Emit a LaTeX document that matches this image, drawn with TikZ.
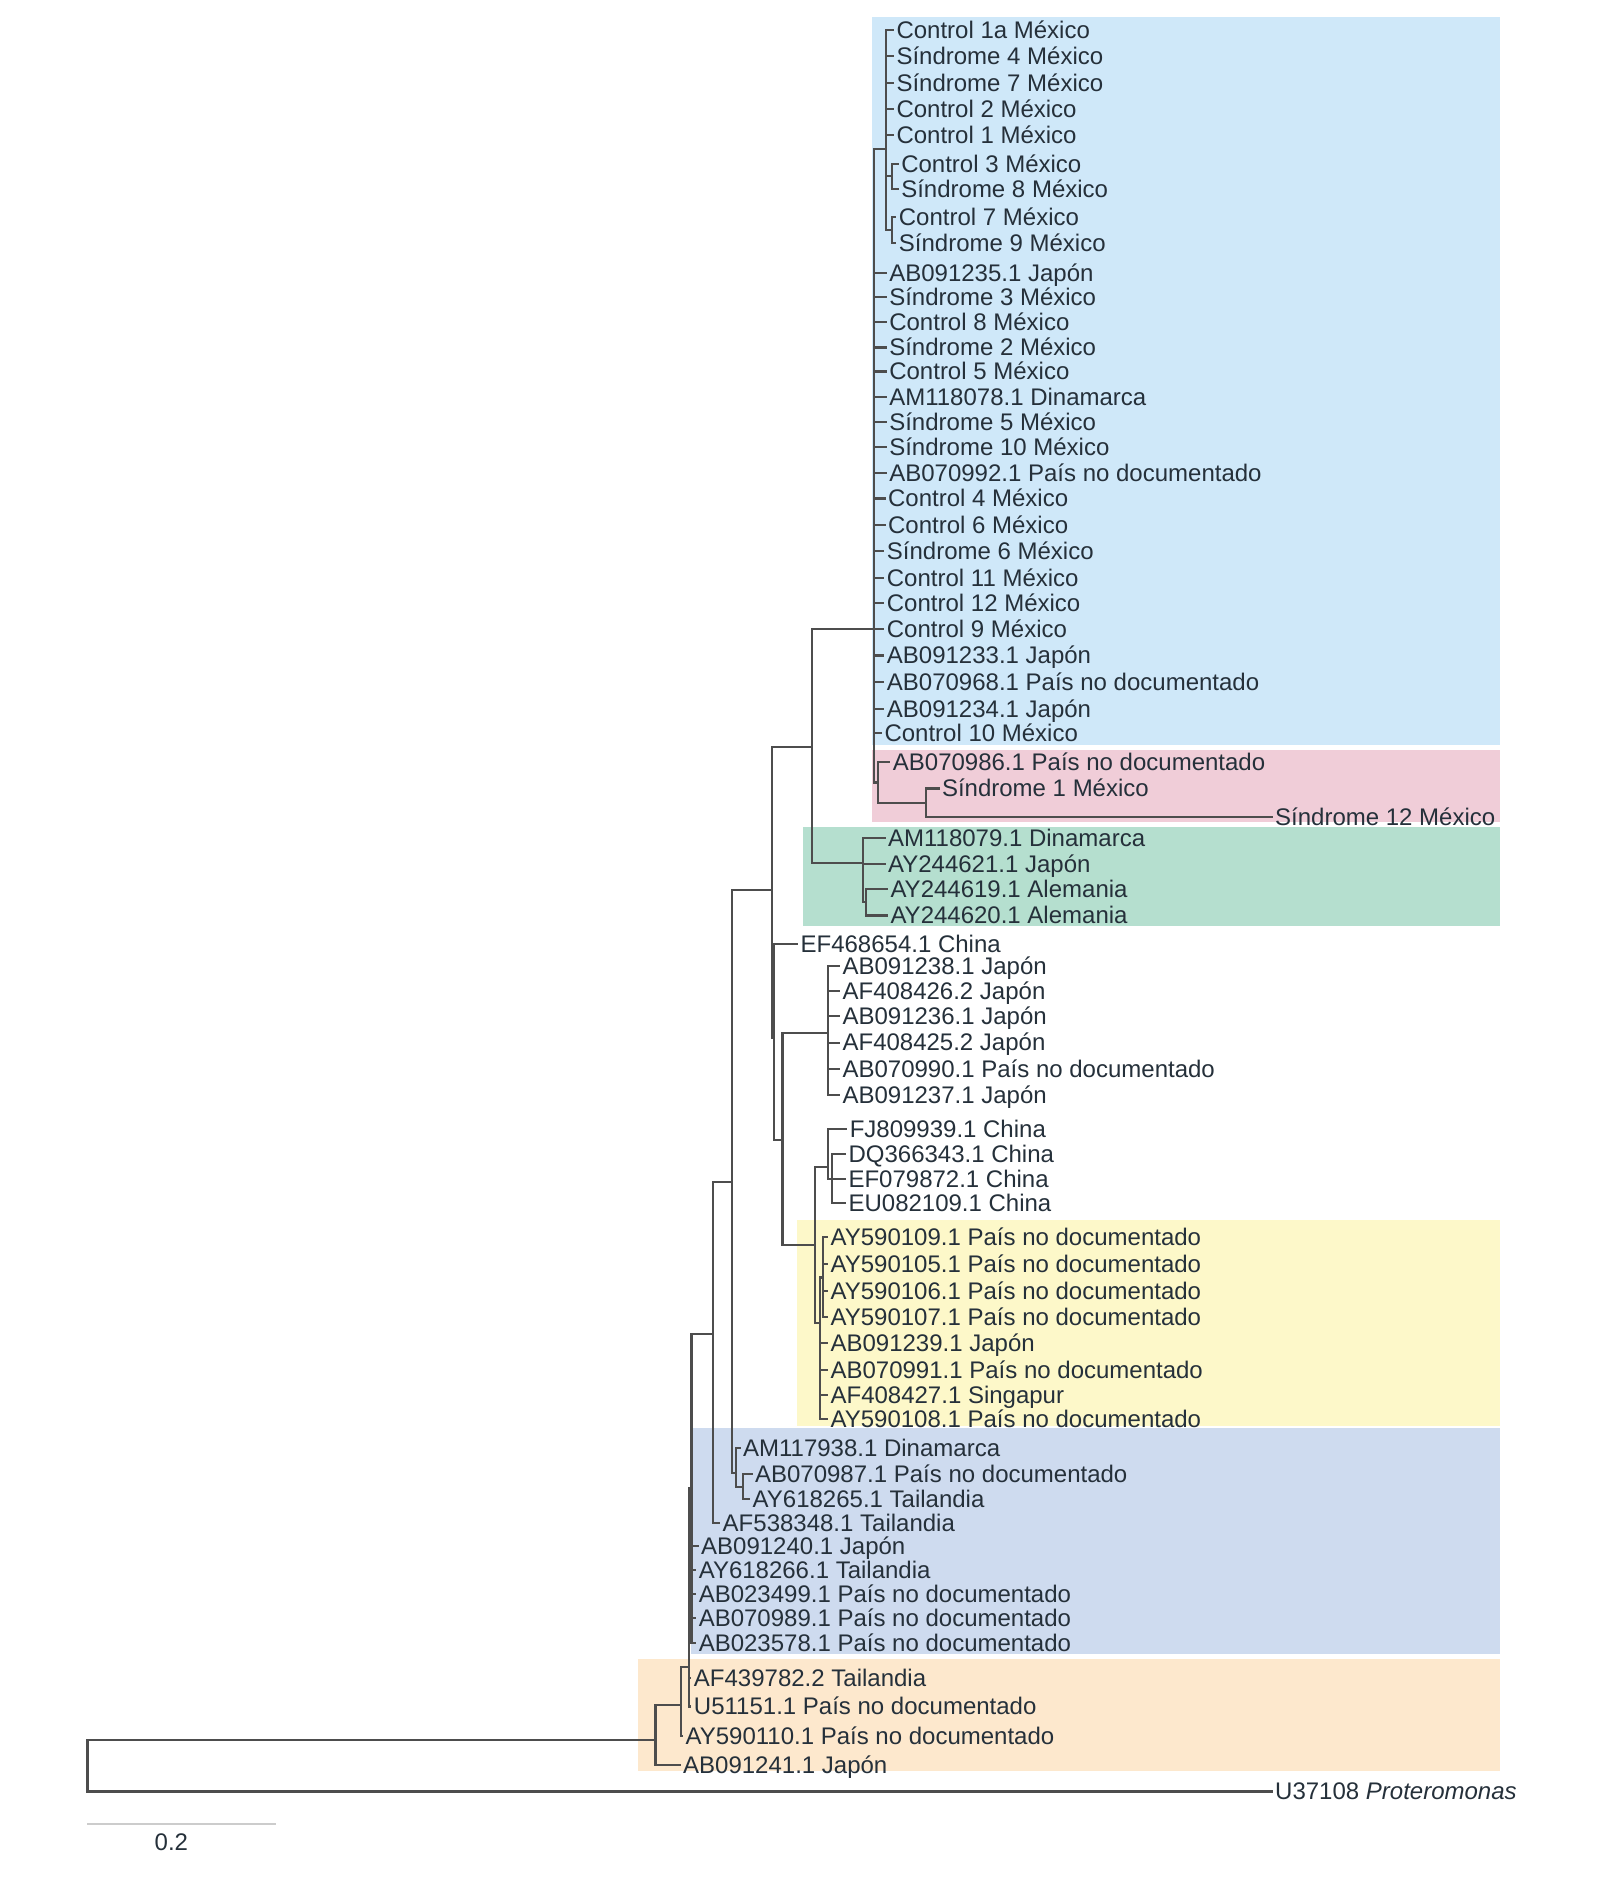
\documentclass[tikz,border=0pt]{standalone}
\usepackage{fontspec}
\setmainfont{Liberation Sans}
\usepackage{xcolor}
\definecolor{CladoAzul}{HTML}{CFE8F9}
\definecolor{CladoRosa}{HTML}{F0CDD8}
\definecolor{CladoVerde}{HTML}{B5DFCF}
\definecolor{CladoAmarillo}{HTML}{FDF8C9}
\definecolor{CladoGris}{HTML}{CEDBEF}
\definecolor{CladoNaranja}{HTML}{FDE8CD}
\definecolor{RamaGris}{HTML}{4D4D4D}
\definecolor{TextoOscuro}{HTML}{25303A}

\begin{document}
\begin{tikzpicture}[x=0.02cm, y=-0.02cm,
    rama/.style={draw=RamaGris, line width=1pt},
    hoja/.style={anchor=west, inner sep=1pt, text=TextoOscuro, font=\fontsize{11.4}{13}\selectfont, text height=9pt, text depth=1pt}]
            \useasboundingbox (0,0) rectangle (1349,1568);
            \fill[CladoAzul] (728,14) rectangle (1252,622);
            \fill[CladoRosa] (728,626) rectangle (1252,686);
            \fill[CladoVerde] (670,690) rectangle (1252,773);
            \fill[CladoAmarillo] (665,1018) rectangle (1252,1190);
            \fill[CladoGris] (577,1192) rectangle (1252,1380);
            \fill[CladoNaranja] (532,1384) rectangle (1252,1478);

            \coordinate (raiz) at (73,1473);
            \coordinate (nR) at (547,1452);
            \coordinate (nO) at (568,1423);
            \coordinate (nN) at (575,1391);
            \coordinate (nM) at (577,1242);
            \coordinate (nL) at (595,1113);
            \coordinate (nK) at (611,986);
            \coordinate (nS) at (614,1229);
            \coordinate (nS2) at (620,1241);
            \coordinate (nC) at (644,743);
            \coordinate (nX) at (646,866);
            \coordinate (nE) at (653,951);
            \coordinate (nJ) at (691,862);
            \coordinate (nF) at (680,1039);
            \coordinate (nCh) at (691,974);
            \coordinate (nCh2) at (694,984);
            \coordinate (nY) at (684,1104);
            \coordinate (nY2) at (687,1066);
            \coordinate (nA) at (677.5,623);
            \coordinate (nB) at (729,525);
            \coordinate (nB1) at (739,124);
            \coordinate (nB3) at (744,147);
            \coordinate (nB4) at (744,192);
            \coordinate (nP) at (733,653);
            \coordinate (nP2) at (773,670);
            \coordinate (nG) at (720,720);
            \coordinate (nG2) at (723,753);

            \foreach \n/\x/\y/\t in {t01/746/25/Control 1a México, t02/746/47/Síndrome 4 México,
                t03/746/69/Síndrome 7 México, t04/746/91/Control 2 México, t05/746/113/Control 1 México,
                t06/750/137/Control 3 México, t07/750/158/Síndrome 8 México, t08/748/181/Control 7 México,
                t09/748/203/Síndrome 9 México, t10/740/228/AB091235.1 Japón, t11/740/248/Síndrome 3 México,
                t12/740/269/Control 8 México, t13/740/290/Síndrome 2 México, t14/740/310/Control 5 México,
                t15/740/331/AM118078.1 Dinamarca, t16/740/352/Síndrome 5 México, t17/740/373/Síndrome 10 México,
                t18/740/395/AB070992.1 País no documentado, t19/739/416/Control 4 México,
                t20/739/438/Control 6 México, t21/738/460/Síndrome 6 México, t22/738/482/Control 11 México,
                t23/738/503/Control 12 México, t24/738/525/Control 9 México, t25/738/547/AB091233.1 Japón,
                t26/738/569/AB070968.1 País no documentado, t27/738/592/AB091234.1 Japón,
                t28/736/612/Control 10 México, t29/743/636/AB070986.1 País no documentado,
                t30/784/658/Síndrome 1 México, t31/1062/682/Síndrome 12 México,
                t32/739/699/AM118079.1 Dinamarca, t33/739/721/AY244621.1 Japón,
                t34/741/742/AY244619.1 Alemania, t35/741/764/AY244620.1 Alemania,
                t36/666/788/EF468654.1 China, t37/701/806/AB091238.1 Japón, t38/701/827/AF408426.2 Japón,
                t39/701/848/AB091236.1 Japón, t40/701/870/AF408425.2 Japón,
                t41/701/892/AB070990.1 País no documentado, t42/701/914/AB091237.1 Japón,
                t43/707/942/FJ809939.1 China, t44/706/963/DQ366343.1 China, t45/706/984/EF079872.1 China,
                t46/706/1004/EU082109.1 China, t47/691/1032/AY590109.1 País no documentado,
                t48/691/1055/AY590105.1 País no documentado, t49/691/1077/AY590106.1 País no documentado,
                t50/691/1099/AY590107.1 País no documentado, t51/691/1121/AB091239.1 Japón,
                t52/691/1143/AB070991.1 País no documentado, t53/691/1164/AF408427.1 Singapur,
                t54/691/1184/AY590108.1 País no documentado, t55/618/1208/AM117938.1 Dinamarca,
                t56/628/1230/AB070987.1 País no documentado, t57/626/1251/AY618265.1 Tailandia,
                t58/601/1271/AF538348.1 Tailandia, t59/583/1290/AB091240.1 Japón,
                t60/581/1310/AY618266.1 Tailandia, t61/581/1330/AB023499.1 País no documentado,
                t62/581/1350/AB070989.1 País no documentado, t63/581/1371/AB023578.1 País no documentado,
                t64/577/1400/AF439782.2 Tailandia, t65/577/1424/U51151.1 País no documentado,
                t66/570/1449/AY590110.1 País no documentado, t67/568/1473/AB091241.1 Japón} {
                \node[hoja] (\n) at (\x,\y) {\t};
            }
            \node[hoja] (t68) at (1062,1495) {U37108 \textit{Proteromonas}};

            \foreach \p/\c in {raiz/nR, nR/nO, nO/nN, nN/nM, nM/nL, nL/nK, nK/nC, nK/nS, nS/nS2,
                nC/nA, nC/nX, nX/nE, nE/nJ, nE/nF, nF/nCh, nF/nY, nCh/nCh2, nY/nY2,
                nA/nB, nA/nG, nG/nG2, nB/nB1, nB/nP, nB1/nB3, nB1/nB4, nP/nP2} {
                \draw[rama] (\p) |- (\c);
            }
            \foreach \p/\c in {nB1/t01, nB1/t02, nB1/t03, nB1/t04, nB1/t05, nB3/t06, nB3/t07, nB4/t08, nB4/t09,
                nB/t10, nB/t11, nB/t12, nB/t13, nB/t14, nB/t15, nB/t16, nB/t17, nB/t18, nB/t19, nB/t20,
                nB/t21, nB/t22, nB/t23, nB/t24, nB/t25, nB/t26, nB/t27, nB/t28, nP/t29, nP2/t30, nP2/t31,
                nG/t32, nG/t33, nG2/t34, nG2/t35, nX/t36, nJ/t37, nJ/t38, nJ/t39, nJ/t40, nJ/t41, nJ/t42,
                nCh/t43, nCh2/t44, nCh2/t45, nCh2/t46, nY2/t47, nY2/t48, nY2/t49, nY2/t50,
                nY/t51, nY/t52, nY/t53, nY/t54, nS/t55, nS2/t56, nS2/t57, nL/t58,
                nM/t59, nM/t60, nM/t61, nM/t62, nM/t63, nN/t64, nN/t65, nO/t66, nR/t67, raiz/t68} {
                \draw[rama] (\p) |- (\c.west);
            }

            \draw[black!20, line width=1pt] (73,1522) -- (230,1522);
            \node[hoja, anchor=center] (escala) at (143,1537) {0.2};
\end{tikzpicture}
\end{document}
